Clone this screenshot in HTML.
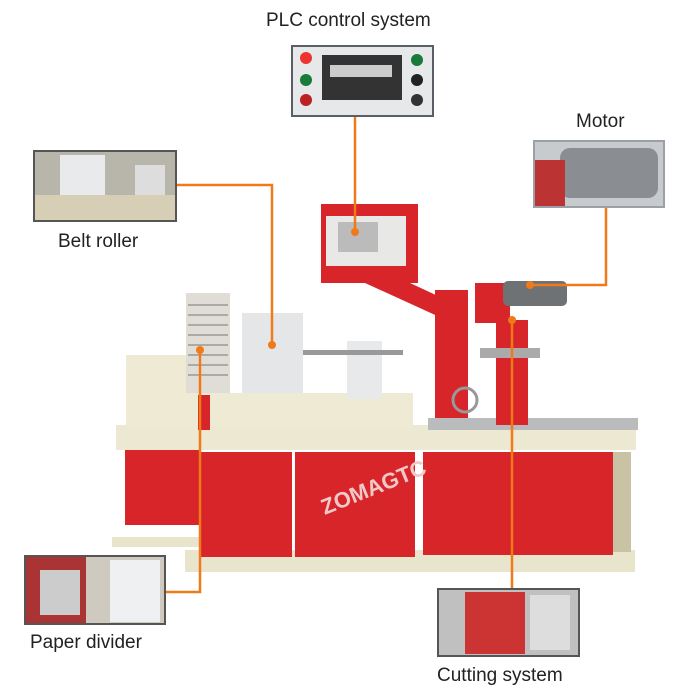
<!DOCTYPE html>
<html><head><style>
html,body{margin:0;padding:0;background:#fff}
body{width:700px;height:700px;position:relative;overflow:hidden;font-family:"Liberation Sans",sans-serif}
.l{position:absolute;font-size:19px;color:#222;white-space:nowrap}
</style></head><body>
<svg width="700" height="700" style="position:absolute;left:0;top:0">
<!-- photos -->
<rect x="291" y="45" width="143" height="72" fill="#5a5f66"/>
<rect x="293" y="47" width="139" height="68" fill="#e6e8ea"/>
<rect x="322" y="55" width="80" height="45" fill="#333"/>
<rect x="330" y="65" width="62" height="12" fill="#ccc"/>
<circle cx="306" cy="58" r="6" fill="#e33"/><circle cx="306" cy="80" r="6" fill="#1a7a3a"/><circle cx="306" cy="100" r="6" fill="#b22"/>
<circle cx="417" cy="60" r="6" fill="#1a7a3a"/><circle cx="417" cy="80" r="6" fill="#222"/><circle cx="417" cy="100" r="6" fill="#333"/>

<rect x="533" y="140" width="132" height="68" fill="#9aa0a6"/>
<rect x="535" y="142" width="128" height="64" fill="#c8cbce"/>
<rect x="560" y="148" width="98" height="50" rx="10" fill="#8a8e92"/>
<rect x="535" y="160" width="30" height="46" fill="#b33"/>

<rect x="33" y="150" width="144" height="72" fill="#555"/>
<rect x="35" y="152" width="140" height="68" fill="#b8b5aa"/>
<rect x="60" y="155" width="45" height="55" fill="#e8eaec"/>
<rect x="135" y="165" width="30" height="35" fill="#ddd"/>
<rect x="35" y="195" width="140" height="25" fill="#d6cfb5"/>

<rect x="24" y="555" width="142" height="70" fill="#555"/>
<rect x="26" y="557" width="138" height="66" fill="#cfcac0"/>
<rect x="26" y="557" width="60" height="66" fill="#a33"/>
<rect x="40" y="570" width="40" height="45" fill="#ccc"/>
<rect x="110" y="560" width="50" height="62" fill="#eef0f2"/>

<rect x="437" y="588" width="143" height="69" fill="#555"/>
<rect x="439" y="590" width="139" height="65" fill="#bfc0bf"/>
<rect x="465" y="592" width="60" height="62" fill="#c33"/>
<rect x="530" y="595" width="40" height="55" fill="#ddd"/>

<!-- machine -->
<rect x="112" y="537" width="90" height="10" fill="#e9e4cc"/>
<rect x="185" y="550" width="450" height="22" fill="#e9e4cc"/>
<rect x="125" y="445" width="75" height="80" fill="#d7252a"/>
<rect x="200" y="452" width="92" height="105" fill="#d7252a"/>
<rect x="295" y="452" width="120" height="105" fill="#d7252a"/>
<rect x="423" y="452" width="190" height="103" fill="#d7252a"/>
<rect x="613" y="452" width="18" height="100" fill="#c9c2a4"/>
<rect x="116" y="425" width="520" height="25" fill="#ede8d2"/>
<rect x="126" y="355" width="97" height="72" fill="#efead3"/>
<rect x="223" y="393" width="190" height="35" fill="#efead3"/>
<rect x="186" y="293" width="44" height="100" fill="#e0ddd6"/>
<g stroke="#777" stroke-width="1"><line x1="188" y1="305" x2="228" y2="305"/><line x1="188" y1="315" x2="228" y2="315"/><line x1="188" y1="325" x2="228" y2="325"/><line x1="188" y1="335" x2="228" y2="335"/><line x1="188" y1="345" x2="228" y2="345"/><line x1="188" y1="355" x2="228" y2="355"/><line x1="188" y1="365" x2="228" y2="365"/><line x1="188" y1="375" x2="228" y2="375"/></g>
<rect x="242" y="313" width="61" height="80" fill="#e4e6e8"/>
<rect x="347" y="341" width="35" height="58" fill="#e8e9ea"/>
<rect x="303" y="350" width="100" height="5" fill="#999"/>
<rect x="198" y="395" width="12" height="35" fill="#d7252a"/>
<!-- PLC arm -->
<rect x="321" y="204" width="97" height="79" fill="#d7252a"/>
<rect x="326" y="216" width="80" height="50" fill="#e8e8e6"/>
<rect x="338" y="222" width="40" height="30" fill="#bbb"/>
<polygon points="365,283 410,283 468,310 468,330" fill="#d7252a"/>
<rect x="435" y="290" width="33" height="135" fill="#d7252a"/>
<circle cx="465" cy="400" r="12" fill="none" stroke="#999" stroke-width="3"/>
<rect x="428" y="418" width="210" height="12" fill="#b9bbbd"/>
<rect x="496" y="320" width="32" height="105" fill="#d7252a"/>
<rect x="475" y="283" width="35" height="40" fill="#d7252a"/>
<rect x="503" y="281" width="64" height="25" rx="5" fill="#6e7275"/>
<rect x="480" y="348" width="60" height="10" fill="#aaa"/>
<text x="318" y="500" font-family="Liberation Sans" font-weight="bold" font-size="22" fill="#f0c8c8" transform="rotate(-22 360 490)">ZOMAGTC</text>
<!-- connectors -->
<g stroke="#f07a1a" stroke-width="2.5" fill="none">
<polyline points="355,117 355,232"/>
<polyline points="606,208 606,285 530,285"/>
<polyline points="177,185 272,185 272,345"/>
<polyline points="166,592 200,592 200,350"/>
<polyline points="512,588 512,320"/>
</g>
<g fill="#f07a1a"><circle cx="355" cy="232" r="4"/><circle cx="530" cy="285" r="4"/><circle cx="272" cy="345" r="4"/><circle cx="200" cy="350" r="4"/><circle cx="512" cy="320" r="4"/></g>
</svg>
<div class="l" style="left:266px;top:10px">PLC control system</div>
<div class="l" style="left:576px;top:111px">Motor</div>
<div class="l" style="left:58px;top:231px">Belt roller</div>
<div class="l" style="left:30px;top:632px">Paper divider</div>
<div class="l" style="left:437px;top:665px">Cutting system</div>
</body></html>
